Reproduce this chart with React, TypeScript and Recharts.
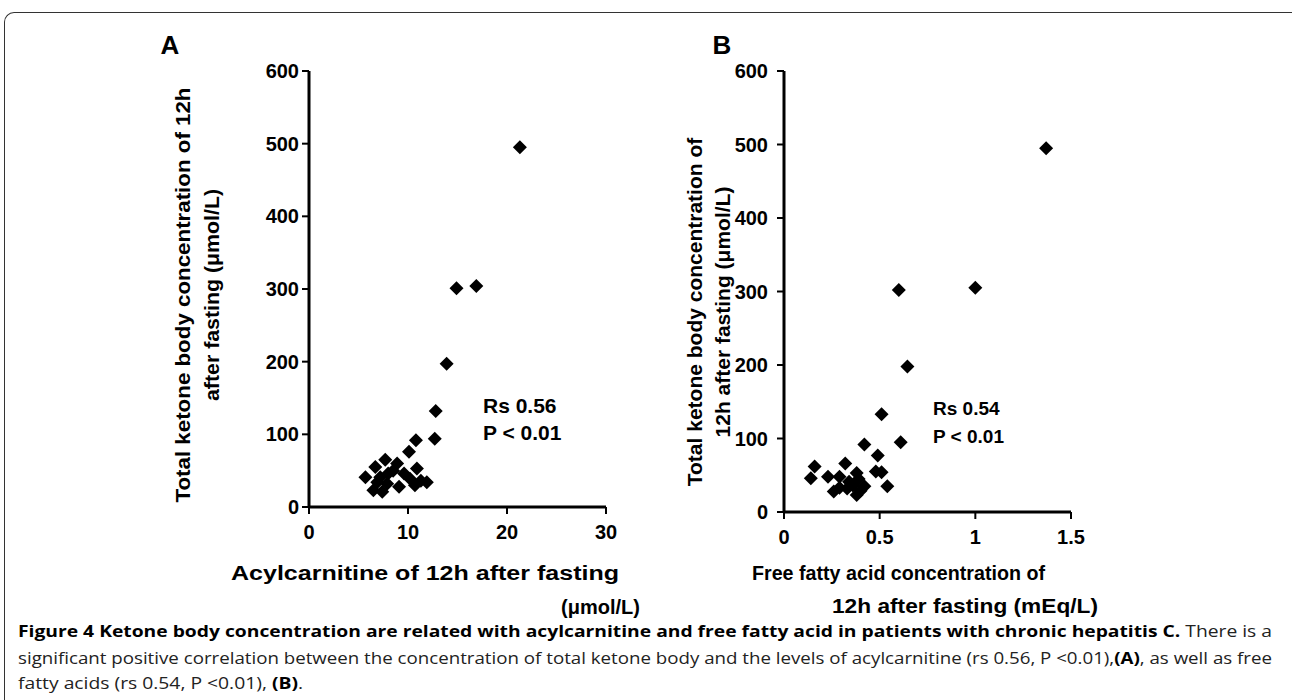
import React from "react";
import { ScatterChart, Scatter, XAxis, YAxis } from "recharts";

// Panel A: acylcarnitine (µmol/L) vs total ketone body (µmol/L)
const acylX = [21.3, 14.9, 16.9, 13.9, 12.8, 12.7, 10.8, 10.1, 5.7, 6.7, 7.7, 6.5, 7.4, 9.1, 10.9, 10.7, 11.9, 8.9, 9.6, 10.2, 8.0, 7.2, 6.9, 8.5, 7.9, 11.3];
const acylY = [495, 301, 304, 197, 132, 94, 92, 76, 41, 55, 65, 23, 21, 28, 53, 30, 34, 60, 46, 39, 46, 41, 34, 50, 32, 36];

// Panel B: free fatty acid (mEq/L) vs total ketone body (µmol/L)
const ffaX = [1.37, 1.0, 0.6, 0.645, 0.51, 0.61, 0.42, 0.49, 0.48, 0.51, 0.54, 0.16, 0.14, 0.23, 0.32, 0.29, 0.26, 0.29, 0.33, 0.38, 0.39, 0.38, 0.42, 0.36, 0.34, 0.4];
const ffaY = [495, 305, 302, 198, 133, 95, 92, 77, 55, 54, 35, 62, 46, 48, 66, 48, 28, 33, 32, 53, 45, 23, 35, 36, 41, 29];

const yTicks = [0, 100, 200, 300, 400, 500, 600];
const acylTicks = [0, 10, 20, 30];
const ffaTicks = [0, 0.5, 1, 1.5];

const zip = (xs: number[], ys: number[]) => xs.map((x, i) => ({ x, y: ys[i] }));
const acylData = zip(acylX, acylY);
const ffaData = zip(ffaX, ffaY);

const FONT = "'Liberation Sans', Arial, sans-serif";
const tickStyle = { fill: "#000", fontSize: 20, fontWeight: "bold", fontFamily: FONT };

const Diamond = (props: any) => {
    const { cx, cy } = props;
    const r = 7;
    return <path d={`M${cx},${cy - r}L${cx + r},${cy}L${cx},${cy + r}L${cx - r},${cy}Z`} fill="#000" />;
};

function Panel({ data, ticks, domain, width, yAxisWidth, right, bottom, yMargin }: any) {
    return (
        <ScatterChart width={width} height={560} margin={{ top: 71, right, left: 0, bottom }}>
            <XAxis
                dataKey="x"
                type="number"
                domain={domain}
                ticks={ticks}
                allowDataOverflow
                height={30}
                axisLine={{ stroke: "#000", strokeWidth: 3 }}
                tickLine={{ stroke: "#000", strokeWidth: 2 }}
                tickSize={7}
                tickMargin={11}
                tick={tickStyle}
            />
            <YAxis
                dataKey="y"
                type="number"
                domain={[0, 600]}
                ticks={yTicks}
                allowDataOverflow
                width={yAxisWidth}
                axisLine={{ stroke: "#000", strokeWidth: 3 }}
                tickLine={{ stroke: "#000", strokeWidth: 2 }}
                tickSize={7}
                tickMargin={yMargin}
                tick={tickStyle}
            />
            <Scatter data={data} shape={Diamond} isAnimationActive={false} />
        </ScatterChart>
    );
}

export default function App() {
    const titleA: any = { fontFamily: FONT, fontWeight: "bold", fontSize: 20, fill: "#000" };
    const titleB: any = { fontFamily: FONT, fontWeight: "bold", fontSize: 21, fill: "#000" };
    const capStyle: any = { fontFamily: "'Open Sans', sans-serif", fontSize: 16, fill: "#222" };
    return (
        <div style={{ position: "absolute", left: 0, top: 0, width: 1292, height: 700, overflow: "hidden", background: "#fff" }}>
            <div
                style={{
                    position: "absolute",
                    left: 4,
                    top: 12,
                    width: 1310,
                    height: 720,
                    borderTop: "1.5px solid #333",
                    borderLeft: "1.5px solid #333",
                    borderTopLeftRadius: 10,
                }}
            />
            <div style={{ position: "absolute", left: 150, top: 0 }}>
                <Panel data={acylData} ticks={acylTicks} domain={[0, 30]} width={480} yAxisWidth={159} right={24} bottom={23} yMargin={3} />
            </div>
            <div style={{ position: "absolute", left: 700, top: 0 }}>
                <Panel data={ffaData} ticks={ffaTicks} domain={[0, 1.5]} width={400} yAxisWidth={84} right={29} bottom={18} yMargin={9} />
            </div>
            <svg width={1292} height={700} style={{ position: "absolute", left: 0, top: 0, pointerEvents: "none" }}>
                <text x={170} y={54} textAnchor="middle" style={{ ...titleA, fontSize: 26 }}>A</text>
                <text x={722} y={54} textAnchor="middle" style={{ ...titleA, fontSize: 26 }}>B</text>

                <text transform="translate(183,295) rotate(-90)" textAnchor="middle" dominantBaseline="central" textLength={415} lengthAdjust="spacingAndGlyphs" style={titleA}>
                    Total ketone body concentration of 12h
                </text>
                <text transform="translate(212,295) rotate(-90)" textAnchor="middle" dominantBaseline="central" textLength={212} lengthAdjust="spacingAndGlyphs" style={titleA}>
                    after fasting (μmol/L)
                </text>
                <text x={425} y={580} textAnchor="middle" textLength={388} lengthAdjust="spacingAndGlyphs" style={titleA}>
                    Acylcarnitine of 12h after fasting
                </text>
                <text x={640} y={614} textAnchor="end" style={titleA}>(μmol/L)</text>
                <text x={483} y={413} style={{ ...titleA, fontSize: 21 }}>Rs 0.56</text>
                <text x={483} y={440} style={{ ...titleA, fontSize: 21 }}>P &lt; 0.01</text>

                <text transform="translate(694,312) rotate(-90)" textAnchor="middle" dominantBaseline="central" style={titleB}>
                    Total ketone body concentration of
                </text>
                <text transform="translate(722,312) rotate(-90)" textAnchor="middle" dominantBaseline="central" style={titleB}>
                    12h after fasting (μmol/L)
                </text>
                <text x={752} y={580} textLength={293} lengthAdjust="spacingAndGlyphs" style={titleB}>
                    Free fatty acid concentration of
                </text>
                <text x={832} y={613} textLength={266} lengthAdjust="spacingAndGlyphs" style={titleB}>
                    12h after fasting (mEq/L)
                </text>
                <text x={933} y={415} style={{ ...titleB, fontSize: 19 }}>Rs 0.54</text>
                <text x={933} y={443} style={{ ...titleB, fontSize: 19 }}>P &lt; 0.01</text>

                <text x={18} y={637} textLength={1254} lengthAdjust="spacingAndGlyphs" style={capStyle}>
                    <tspan fontWeight="bold" fill="#000">
                        Figure 4 Ketone body concentration are related with acylcarnitine and free fatty acid in patients with chronic hepatitis C.
                    </tspan>
                    <tspan> There is a</tspan>
                </text>
                <text x={18} y={664} textLength={1254} lengthAdjust="spacingAndGlyphs" style={capStyle}>
                    <tspan>significant positive correlation between the concentration of total ketone body and the levels of acylcarnitine (rs 0.56, P &lt;0.01),</tspan>
                    <tspan fontWeight="bold" fill="#000">(A)</tspan>
                    <tspan>, as well as free</tspan>
                </text>
                <text x={18} y={689} textLength={285} lengthAdjust="spacingAndGlyphs" style={capStyle}>
                    <tspan>fatty acids (rs 0.54, P &lt;0.01), </tspan>
                    <tspan fontWeight="bold" fill="#000">(B)</tspan>
                    <tspan>.</tspan>
                </text>
            </svg>
        </div>
    );
}
